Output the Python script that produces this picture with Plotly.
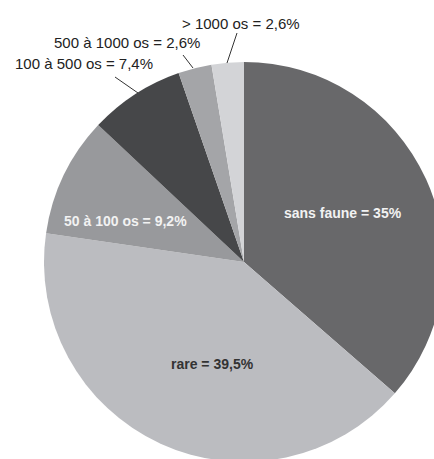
import plotly.graph_objects as go

# Data
categories = ["sans faune", "rare", "50 à 100 os", "100 à 500 os", "500 à 1000 os", "> 1000 os"]
slice_share = [36.4, 40.9, 9.7, 7.7, 2.7, 2.6]          # slice sizes as drawn
label_pct = ["35%", "39,5%", "9,2%", "7,4%", "2,6%", "2,6%"]  # printed percentages
colors = ["#68686a", "#bbbcc0", "#98999c", "#464749", "#a4a5a8", "#d3d4d7"]

W, H = 460, 480  # larger than the window so the pie is cut at right/bottom
cx, cy, R = 244, 262, 200


def px(x):
    return x / W


def py(y):
    return 1 - y / H


fig = go.Figure(go.Pie(
    labels=categories,
    values=slice_share,
    sort=False,
    direction="clockwise",
    rotation=0,
    marker=dict(colors=colors, line=dict(width=0)),
    textinfo="none",
    hoverinfo="label+percent",
    domain=dict(x=[px(cx - R), px(cx + R)], y=[py(cy + R), py(cy - R)]),
    showlegend=False,
))

texts = [f"{c} = {p}" for c, p in zip(categories, label_pct)]

annotations = []
# inside labels (bold)
inside = [(0, 343, 213, "#f2f2f2"), (1, 212, 364, "#333333"), (2, 125, 221, "#f2f2f2")]
for i, x, y, col in inside:
    annotations.append(dict(x=px(x), y=py(y), xref="paper", yref="paper", text=f"<b>{texts[i]}</b>",
                            xanchor="center", yanchor="middle",
                            showarrow=False, font=dict(family="Liberation Sans, Arial", size=14, color=col)))

# outside labels with leader lines
outside = [(3, 84, 64, (138, 93), (115, 77)),
           (4, 127, 42, (193, 68), (183, 55)),
           (5, 241, 23, (227, 63), (237, 33))]
shapes = []
for i, x, y, p0, p1 in outside:
    annotations.append(dict(x=px(x), y=py(y), xref="paper", yref="paper", text=texts[i],
                            xanchor="center", yanchor="middle",
                            showarrow=False, font=dict(family="Liberation Sans, Arial", size=15, color="#222222")))
    shapes.append(dict(type="line", xref="paper", yref="paper", x0=px(p0[0]), y0=py(p0[1]),
                       x1=px(p1[0]), y1=py(p1[1]), line=dict(color="#333333", width=1)))

fig.update_layout(
    width=W, height=H,
    margin=dict(l=0, r=0, t=0, b=0),
    paper_bgcolor="white",
    plot_bgcolor="white",
    annotations=annotations,
    shapes=shapes,
)

fig.write_html("out.html", config={"displayModeBar": False},
               post_script="document.body.style.margin='0';document.body.style.overflow='hidden';document.documentElement.style.overflow='hidden';")
